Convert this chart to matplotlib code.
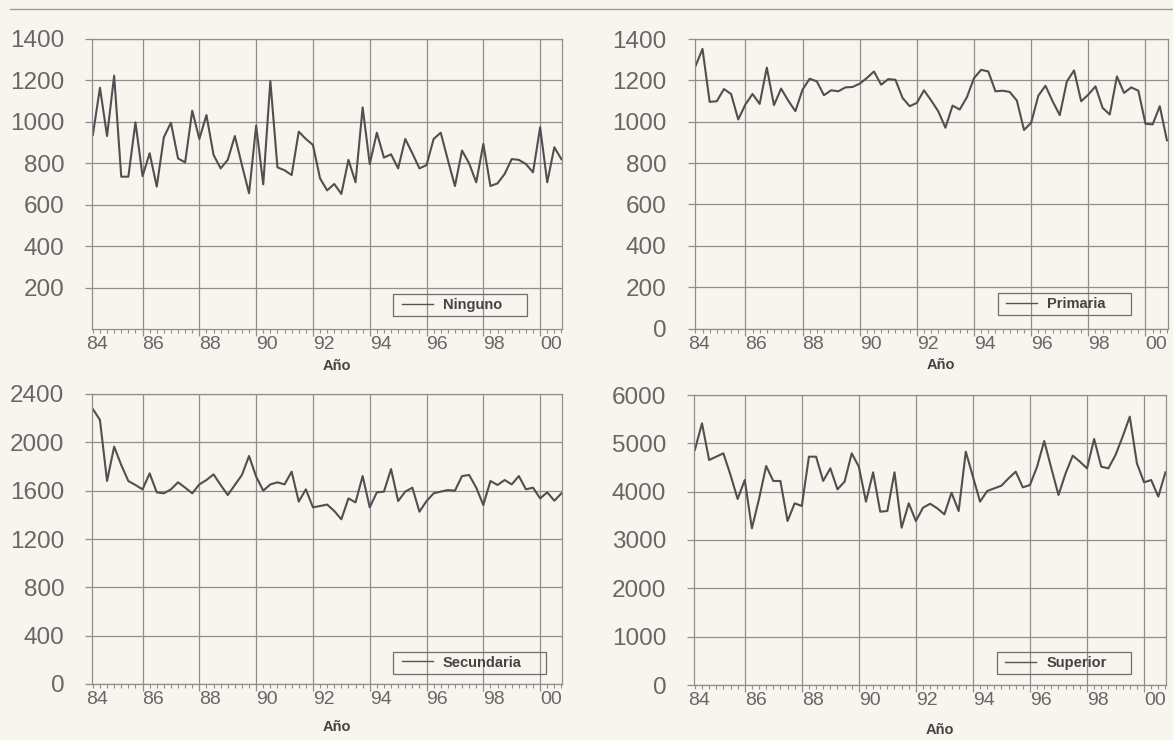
import matplotlib
matplotlib.use("Agg")
import matplotlib.pyplot as plt
from matplotlib.lines import Line2D
from matplotlib.patches import Rectangle
from matplotlib.ticker import MultipleLocator, FixedLocator
import numpy as np
import pandas as pd

# Quarterly series, 1984Q2 - 2000Q4
quarters = pd.period_range("1984Q2", "2000Q4", freq="Q")

ninguno = [935, 1163, 930, 1221, 734, 734, 996, 737, 847, 686,
           924, 994, 822, 803, 1052, 916, 1031, 839, 774, 815,
           930, 790, 654, 980, 697, 1195, 779, 765, 742, 951,
           916, 887, 726, 668, 699, 651, 815, 707, 1068, 795,
           946, 826, 842, 774, 916, 847, 774, 790, 916, 946,
           815, 689, 860, 798, 707, 892, 689, 702, 747, 819,
           815, 795, 755, 972, 707, 876, 818]

primaria = [1267, 1352, 1096, 1099, 1158, 1134, 1011, 1083, 1134, 1086,
            1262, 1080, 1160, 1102, 1051, 1155, 1208, 1195, 1128, 1152,
            1147, 1166, 1168, 1184, 1211, 1243, 1179, 1206, 1203, 1115,
            1075, 1091, 1152, 1103, 1050, 971, 1078, 1059, 1118, 1211,
            1251, 1243, 1147, 1150, 1144, 1102, 960, 995, 1126, 1174,
            1099, 1032, 1195, 1248, 1099, 1131, 1171, 1067, 1035, 1219,
            1139, 1166, 1150, 990, 987, 1075, 910]

secundaria = [2276, 2185, 1680, 1964, 1812, 1680, 1647, 1611, 1743, 1586,
              1578, 1611, 1669, 1625, 1578, 1652, 1688, 1735, 1647, 1564,
              1647, 1730, 1887, 1716, 1600, 1652, 1669, 1652, 1757, 1509,
              1611, 1462, 1473, 1485, 1432, 1363, 1536, 1503, 1721, 1462,
              1586, 1592, 1779, 1514, 1592, 1625, 1426, 1514, 1578, 1592,
              1605, 1600, 1721, 1730, 1625, 1481, 1680, 1647, 1688, 1652,
              1721, 1611, 1625, 1536, 1586, 1517, 1578]

superior = [4862, 5414, 4655, 4724, 4793, 4345, 3848, 4241, 3241, 3850,
            4531, 4221, 4221, 3393, 3759, 3703, 4724, 4724, 4221, 4483,
            4048, 4207, 4793, 4517, 3793, 4400, 3586, 3600, 4400, 3255,
            3759, 3393, 3669, 3750, 3655, 3531, 3979, 3600, 4828, 4310,
            3793, 4014, 4069, 4124, 4276, 4414, 4090, 4138, 4517, 5048,
            4483, 3931, 4379, 4745, 4621, 4483, 5090, 4517, 4483, 4759,
            5138, 5552, 4586, 4193, 4241, 3897, 4400]

series_names = ["Ninguno", "Primaria", "Secundaria", "Superior"]
year_labels = ["84", "86", "88", "90", "92", "94", "96", "98", "00"]
label_years = [1984, 1986, 1988, 1990, 1992, 1994, 1996, 1998, 2000]

yticks_ninguno = [200, 400, 600, 800, 1000, 1200, 1400]
yticks_primaria = [0, 200, 400, 600, 800, 1000, 1200, 1400]
yticks_secundaria = [0, 400, 800, 1200, 1600, 2000, 2400]
yticks_superior = [0, 1000, 2000, 3000, 4000, 5000, 6000]

PAPER = "#f7f5ee"
GRID = "#8e8e8e"
LINE = "#505050"
TEXT = "#676767"

plt.rcParams["font.family"] = ["Liberation Sans", "DejaVu Sans"]

W, H = 1173, 740
fig = plt.figure(figsize=(W / 100, H / 100), dpi=100, facecolor=PAPER)

# axes boxes in pixels: left, top, right, bottom
boxes = [
    (92, 38.5, 562, 329),
    (694.5, 39, 1167.5, 328.5),
    (92, 394, 562, 684),
    (694, 395, 1166, 685),
]
xlabel_offsets = [-0.103, -0.103, -0.124, -0.13]
legend_y = [0.083, 0.083, 0.074, 0.076]

x = quarters.year + (quarters.quarter - 1) / 4.0
data = [ninguno, primaria, secundaria, superior]
ytick_sets = [yticks_ninguno, yticks_primaria, yticks_secundaria, yticks_superior]
ylims = [(0, 1400), (0, 1400), (0, 2400), (0, 6000)]

legends = []
for (l, t, r, b), name, vals, yt, yl, xo, ly in zip(
        boxes, series_names, data, ytick_sets, ylims, xlabel_offsets, legend_y):
    ax = fig.add_axes([l / W, 1 - b / H, (r - l) / W, (b - t) / H])
    ax.set_facecolor(PAPER)
    ax.plot(x, vals, color=LINE, lw=1.5, label=name)
    ax.set_xlim(x[0] - 0.03, x[-1] + 0.02)
    ax.set_ylim(*yl)

    # vertical grid at every second year, quarterly minor ticks
    ax.xaxis.set_major_locator(FixedLocator(label_years[1:]))
    ax.xaxis.set_minor_locator(MultipleLocator(0.25))
    ax.set_xticklabels([])
    ax.set_yticks(yt)
    ax.set_yticklabels([str(v) for v in yt])

    ax.grid(True, which="major", color=GRID, lw=0.9)
    ax.set_axisbelow(True)
    for sp in ax.spines.values():
        sp.set_color(GRID)
        sp.set_linewidth(0.9)

    ax.tick_params(axis="x", which="major", direction="out", length=5,
                   width=0.9, color=GRID)
    ax.tick_params(axis="x", which="minor", direction="out", length=3,
                   width=0.8, color=GRID)
    ax.tick_params(axis="y", which="major", direction="out", length=5,
                   width=0.9, color=GRID, pad=15, labelsize=17.5,
                   labelcolor=TEXT)

    # year labels sit just right of their gridline
    for yr, lab in zip(label_years, year_labels):
        ax.text(yr, -0.025, lab, transform=ax.get_xaxis_transform(),
                ha="left", va="top", fontsize=14, color=TEXT, clip_on=False)

    ax.text(0.52, xo, "Año", transform=ax.transAxes, ha="center",
            va="top", fontsize=10.5, fontweight="bold", color="#444444")

    leg = ax.legend(loc="center left", bbox_to_anchor=(0.641, ly),
                    frameon=False, handlelength=2.1, handletextpad=0.7,
                    borderpad=0.6, borderaxespad=0,
                    prop={"size": 10.5, "weight": "bold"})
    for txt in leg.get_texts():
        txt.set_color("#444444")
    for h in leg.legend_handles:
        h.set_linewidth(1.0)
        h.set_color("#555555")
    legends.append(leg)

# legend boxes: a fixed height, with extra room right of the label
fig.canvas.draw()
inv = fig.transFigure.inverted()
for leg in legends:
    bb = leg.get_window_extent()
    cy = bb.y0 + bb.height / 2
    x0, x1 = bb.x0, bb.x1 + 16
    y0, y1 = cy - 11, cy + 11
    fx0, fy0 = inv.transform((x0, y0))
    fx1, fy1 = inv.transform((x1, y1))
    fig.add_artist(Rectangle((fx0, fy0), fx1 - fx0, fy1 - fy0,
                             transform=fig.transFigure, facecolor="none",
                             edgecolor="#6e6e6e", lw=0.9, zorder=6))

# rule across the top of the page
fig.add_artist(Line2D([10 / W, 1.0], [1 - 8.5 / H, 1 - 8.5 / H],
                      transform=fig.transFigure, color="#9a9a9a", lw=1.0))

fig.savefig("out.png", dpi=100, facecolor=PAPER)
